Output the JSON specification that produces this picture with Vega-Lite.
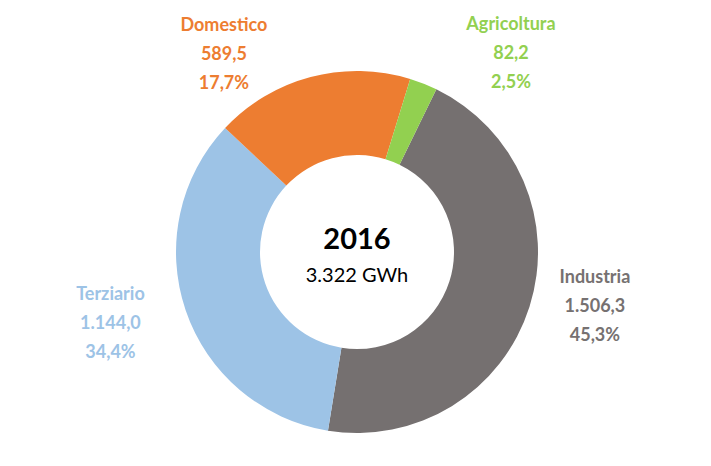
{
  "$schema": "https://vega.github.io/schema/vega-lite/v6.json",
  "autosize": {"type": "none"},
  "width": 708,
  "height": 428,
  "padding": {"left": 3, "top": 38, "right": 0, "bottom": 0},
  "background": "white",
  "config": {"view": {"stroke": null}, "font": "Lato"},
  "datasets": {
    "consumi": [
      {"settore": "Industria", "valore": 1506.3, "valTxt": "1.506,3", "pctTxt": "45,3%"},
      {"settore": "Terziario", "valore": 1144.0, "valTxt": "1.144,0", "pctTxt": "34,4%"},
      {"settore": "Domestico", "valore": 589.5, "valTxt": "589,5", "pctTxt": "17,7%"},
      {"settore": "Agricoltura", "valore": 82.2, "valTxt": "82,2", "pctTxt": "2,5%"}
    ],
    "centro": [{"anno": "2016", "totale": "3.322 GWh"}]
  },
  "layer": [
    {
      "data": {"name": "consumi"},
      "mark": {"type": "arc", "outerRadius": 181, "innerRadius": 97},
      "encoding": {
        "theta": {"field": "valore", "type": "quantitative", "stack": true, "scale": {"range": [0.4538, 6.737]}},
        "color": {"field": "settore", "type": "nominal", "legend": null,
          "scale": {"domain": ["Industria", "Terziario", "Domestico", "Agricoltura"], "range": ["#757070", "#9DC3E6", "#ED7D31", "#92D050"]}},
        "order": {"field": "valore", "sort": "descending"}
      }
    },
    {
      "data": {"name": "consumi"},
      "transform": [
        {"window": [{"op": "sum", "field": "valore", "as": "cum"}], "sort": [{"field": "valore", "order": "descending"}], "frame": [null, 0]},
        {"calculate": "datum.cum - datum.valore / 2", "as": "mid"},
        {"calculate": "[datum.settore, datum.valTxt, datum.pctTxt]", "as": "etichetta"},
        {"filter": "datum.settore === 'Industria'"}
      ],
      "mark": {"type": "text", "fontSize": 18, "fontWeight": "bold", "lineHeight": 29, "radius": 215, "dx": 33, "dy": -39, "color": "#767171"},
      "encoding": {
        "theta": {"field": "mid", "type": "quantitative"},
        "text": {"field": "etichetta"}
      }
    },
    {
      "data": {"name": "consumi"},
      "transform": [
        {"window": [{"op": "sum", "field": "valore", "as": "cum"}], "sort": [{"field": "valore", "order": "descending"}], "frame": [null, 0]},
        {"calculate": "datum.cum - datum.valore / 2", "as": "mid"},
        {"calculate": "[datum.settore, datum.valTxt, datum.pctTxt]", "as": "etichetta"},
        {"filter": "datum.settore === 'Terziario'"}
      ],
      "mark": {"type": "text", "fontSize": 18, "fontWeight": "bold", "lineHeight": 29, "radius": 215, "dx": -43, "dy": -26, "color": "#9DC3E6"},
      "encoding": {
        "theta": {"field": "mid", "type": "quantitative"},
        "text": {"field": "etichetta"}
      }
    },
    {
      "data": {"name": "consumi"},
      "transform": [
        {"window": [{"op": "sum", "field": "valore", "as": "cum"}], "sort": [{"field": "valore", "order": "descending"}], "frame": [null, 0]},
        {"calculate": "datum.cum - datum.valore / 2", "as": "mid"},
        {"calculate": "[datum.settore, datum.valTxt, datum.pctTxt]", "as": "etichetta"},
        {"filter": "datum.settore === 'Domestico'"}
      ],
      "mark": {"type": "text", "fontSize": 18, "fontWeight": "bold", "lineHeight": 29, "radius": 215, "dx": -78, "dy": -18, "color": "#ED7D31"},
      "encoding": {
        "theta": {"field": "mid", "type": "quantitative"},
        "text": {"field": "etichetta"}
      }
    },
    {
      "data": {"name": "consumi"},
      "transform": [
        {"window": [{"op": "sum", "field": "valore", "as": "cum"}], "sort": [{"field": "valore", "order": "descending"}], "frame": [null, 0]},
        {"calculate": "datum.cum - datum.valore / 2", "as": "mid"},
        {"calculate": "[datum.settore, datum.valTxt, datum.pctTxt]", "as": "etichetta"},
        {"filter": "datum.settore === 'Agricoltura'"}
      ],
      "mark": {"type": "text", "fontSize": 18, "fontWeight": "bold", "lineHeight": 29, "radius": 215, "dx": 75, "dy": -27, "color": "#92D050"},
      "encoding": {
        "theta": {"field": "mid", "type": "quantitative"},
        "text": {"field": "etichetta"}
      }
    },
    {
      "data": {"name": "centro"},
      "mark": {"type": "text", "fontSize": 29, "fontWeight": "bold", "color": "#000000", "dy": -12},
      "encoding": {"text": {"field": "anno"}}
    },
    {
      "data": {"name": "centro"},
      "mark": {"type": "text", "fontSize": 20, "color": "#000000", "dy": 24},
      "encoding": {"text": {"field": "totale"}}
    }
  ]
}
